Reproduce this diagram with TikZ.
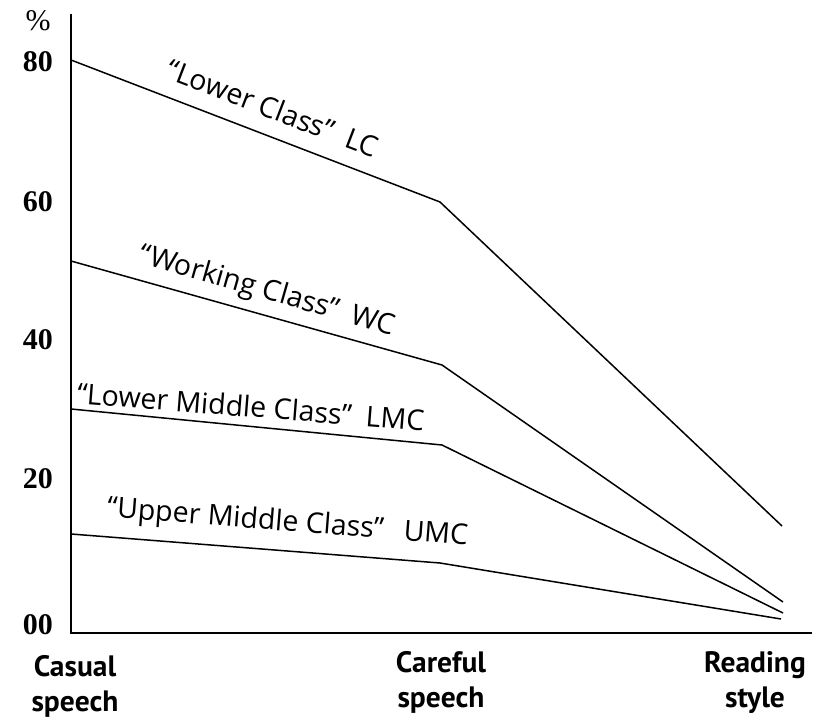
\documentclass[tikz,border=0pt]{standalone}
\usepackage{fontspec}
\setmainfont{PT Sans}
\newfontfamily\numfont{Liberation Serif}
\newfontfamily\labfont{Open Sans}
\begin{document}
\begin{tikzpicture}[x=1pt,y=-1pt,
  axisline/.style={line width=1.6pt, black},
  dataline/.style={line width=1.5pt, black, line join=round},
  classlab/.style={font=\labfont\fontsize{28.5}{32}\selectfont, inner sep=0pt, anchor=base},
  ticklab/.style={font=\numfont\bfseries\fontsize{30}{32}\selectfont, inner sep=0pt, anchor=east},
  xlab/.style={font=\bfseries\fontsize{29.5}{35}\selectfont, inner sep=0pt, align=center, anchor=north}]
\useasboundingbox (0,0) rectangle (817,722);
% axes
\coordinate (ytop) at (71,14);
\coordinate (O) at (71,633);
\coordinate (xend) at (812,633);
\draw[axisline] (ytop) -- (O) -- (xend);
% tick labels
\node[font=\numfont\fontsize{30}{32}\selectfont, inner sep=0pt] (pct) at (38,21) {\%};
\node[ticklab] (t80) at (53,62) {80};
\node[ticklab] (t60) at (53,202) {60};
\node[ticklab] (t40) at (53,340) {40};
\node[ticklab] (t20) at (53,479) {20};
\node[ticklab] (t00) at (53,625) {00};
% data points
\coordinate (lc1) at (71,60);  \coordinate (lc2) at (440,202); \coordinate (lc3) at (782,526);
\coordinate (wc1) at (71,261); \coordinate (wc2) at (442,365); \coordinate (wc3) at (783,602);
\coordinate (lm1) at (71,409); \coordinate (lm2) at (442,445); \coordinate (lm3) at (783,613);
\coordinate (um1) at (71,534); \coordinate (um2) at (440,563); \coordinate (um3) at (781,619);
\draw[dataline] (lc1) -- (lc2) -- (lc3);
\draw[dataline] (wc1) -- (wc2) -- (wc3);
\draw[dataline] (lm1) -- (lm2) -- (lm3);
\draw[dataline] (um1) -- (um2) -- (um3);
% class labels
\node[classlab, rotate=-21] (lclab) at (269,118) {“Lower Class”\hspace{0.5em}LC};
\node[classlab, rotate=-16] (wclab) at (265,299) {“Working Class”\hspace{0.5em}WC};
\node[classlab, rotate=-4.5] (lmlab) at (250,417) {“Lower Middle Class”\hspace{0.5em}LMC};
\node[classlab, rotate=-4.5] (umlab) at (287,531) {“Upper Middle Class”\hspace{0.7em}UMC};
% x labels
\node[xlab] (casual) at (75,655) {Casual\\speech};
\node[xlab] (careful) at (441,651) {Careful\\speech};
\node[xlab] (reading) at (755,651) {Reading\\style};
\end{tikzpicture}
\end{document}
